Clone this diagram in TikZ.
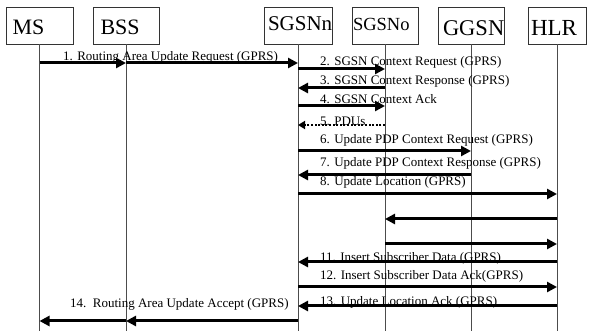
\documentclass[tikz,border=0pt]{standalone}
\usepackage{fontspec}
\setmainfont{Liberation Serif}
\usetikzlibrary{arrows.meta}
\begin{document}
\begin{tikzpicture}[x=1pt,y=-1pt,
  box/.style={draw=black!80, line width=0.9pt, inner sep=0pt, anchor=base, align=left,
    text height=#1, text depth=37pt-#1},
  life/.style={draw=black!70, line width=1pt},
  msg/.style={line width=3pt, -{Triangle[length=10pt,width=10pt]}},
  pdu/.style={line width=2.2pt, dash pattern=on 2pt off 1.6pt, -{Triangle[length=7pt,width=8pt]}},
  lbl/.style={anchor=base west, inner sep=0pt, font=\fontsize{13}{15}\selectfont, text=black}]
\useasboundingbox (0,0) rectangle (590,331);
% entities
\node[box=28pt, text width=67pt, font=\fontsize{22}{22}\selectfont] (ms) at (39.5,35) {\hspace*{6.5pt}MS};
\node[box=28pt, text width=66pt, font=\fontsize{22}{22}\selectfont] (bss) at (126,35) {\hspace*{7.5pt}BSS};
\node[box=24pt, text width=68pt, font=\fontsize{21}{22}\selectfont] (sgsnn) at (298,31) {\hspace*{4pt}SGSNn};
\node[box=24pt, text width=66pt, font=\fontsize{18.5}{22}\selectfont] (sgsno) at (385,31) {\hspace*{1pt}SGSNo};
\node[box=29pt, text width=66pt, font=\fontsize{22.5}{22}\selectfont] (ggsn) at (471,36) {\hspace*{5pt}GGSN};
\node[box=28.5pt, text width=58pt, font=\fontsize{23}{22}\selectfont] (hlr) at (557,35.5) {\hspace*{3pt}HLR};
% lifelines
\coordinate (bot) at (0,331);
\foreach \e in {ms,bss,sgsnn,sgsno,ggsn,hlr}
  \draw[life] (\e.south) -- (\e.south |- bot);
% rows
\coordinate (r1) at (0,63);
\coordinate (r2) at (0,69);
\coordinate (r3) at (0,88);
\coordinate (r4) at (0,106);
\coordinate (r5) at (0,125);
\coordinate (r6) at (0,151);
\coordinate (r7) at (0,175);
\coordinate (r8) at (0,194);
\coordinate (r9) at (0,219);
\coordinate (r10) at (0,244);
\coordinate (r11) at (0,262);
\coordinate (r12) at (0,287);
\coordinate (r13) at (0,306);
\coordinate (r14) at (0,321);
% labels
\node[lbl] (t1) at (63,61) {1. Routing Area Update Request (GPRS)};
\node[lbl] (t2) at (320,66) {2. SGSN Context Request (GPRS)};
\node[lbl] (t3) at (320,85) {3. SGSN Context Response (GPRS)};
\node[lbl] (t4) at (320,104) {4. SGSN Context Ack};
\node[lbl] (t5) at (320,126) {5. PDUs};
\node[lbl] (t6) at (320,144) {6. Update PDP Context Request (GPRS)};
\node[lbl] (t7) at (320,167) {7. Update PDP Context Response (GPRS)};
\node[lbl] (t8) at (320,186) {8. Update Location (GPRS)};
\node[lbl] (t11) at (320,262) {11. Insert Subscriber Data (GPRS)};
\node[lbl] (t12) at (320,280) {12. Insert Subscriber Data Ack(GPRS)};
\node[lbl] (t13) at (320,306) {13. Update Location Ack (GPRS)};
\node[lbl] (t14) at (70,308) {14.\ \ Routing Area Update Accept (GPRS)};
% messages
\draw[msg] (ms |- r1) -- (bss |- r1);
\draw[msg] (bss |- r1) -- (sgsnn |- r1);
\draw[msg] (sgsnn |- r2) -- (sgsno |- r2);
\draw[msg] (sgsno |- r3) -- (sgsnn |- r3);
\draw[msg] (sgsnn |- r4) -- (sgsno |- r4);
\draw[pdu] (sgsno |- r5) -- (sgsnn |- r5);
\draw[msg] (sgsnn |- r6) -- (ggsn |- r6);
\draw[msg] (ggsn |- r7) -- (sgsnn |- r7);
\draw[msg] (sgsnn |- r8) -- (hlr |- r8);
\draw[msg] (hlr |- r9) -- (sgsno |- r9);
\draw[msg] (sgsno |- r10) -- (hlr |- r10);
\draw[msg] (hlr |- r11) -- (sgsnn |- r11);
\draw[msg] (sgsnn |- r12) -- (hlr |- r12);
\draw[msg] (hlr |- r13) -- (sgsnn |- r13);
\draw[msg] (sgsnn |- r14) -- (bss |- r14);
\draw[msg] (bss |- r14) -- (ms |- r14);
\end{tikzpicture}
\end{document}
